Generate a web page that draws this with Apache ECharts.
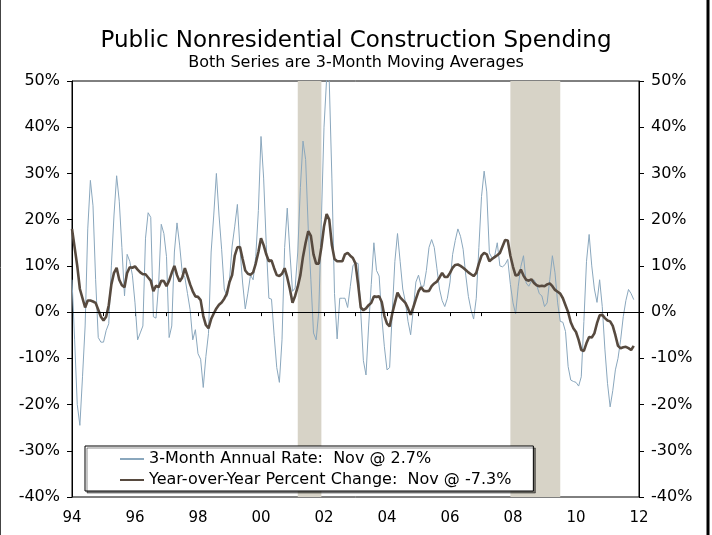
<!DOCTYPE html>
<html>
<head>
<meta charset="utf-8">
<script src="https://cdn.jsdelivr.net/npm/echarts@6/dist/echarts.min.js"></script>
<style>
  html, body { margin: 0; padding: 0; background: #fff; }
  #chart { width: 712px; height: 535px; }
</style>
</head>
<body>
<div id="chart"></div>
<script>
// monthly values, Jan 1994 .. Nov 2011
const startYear = 1994

// 3-month annual rate, % (thin line)
const rate3m = [
  7, -6, -20, -24.5, -14, -3, 18, 28.5, 23, 7, -5.5, -6.5,        // 1994
  -6.5, -4, -2.5, 10, 21, 29.5, 24, 14, 3.5, 12.5, 11, 8,         // 1995
  2, -6, -4.5, -3, 16, 21.5, 20.5, -1, -1.3, 6, 19, 17,           // 1996
  12, -5.5, -3, 13, 19.3, 14.5, 8.5, 7.5, 4, 0.5, -6, -3.8,       // 1997
  -9, -10.2, -16.3, -9.6, -4.6, 13, 21, 30, 21, 13.6, 5, 3.4,     // 1998
  7, 14.3, 18.6, 23.3, 13.6, 6.3, 0.7, 4.1, 8, 7, 12, 22,         // 1999
  38, 29, 14.6, 3, 2.8, -5, -12, -15.2, -6, 14, 22.5, 13,         // 2000
  4.5, 5.2, 13, 27, 37, 33, 18, 7, -4.5, -6, 0, 20,               // 2001
  40, 50.5, 50, 29, 4, -5.8, 3, 3, 3, 1, 5.5, 10,                 // 2002
  10.7, 10.5, 0, -10.5, -13.6, -3, 6, 15, 9, 7.8, -1, -7.5,       // 2003
  -12.5, -12, 0, 11, 17, 11, 5, 2.2, -2, -4.9, 0.5, 6.5,          // 2004
  8, 5.6, 5.6, 9, 14, 15.7, 14, 9.5, 5, 2.5, 1.2, 3,              // 2005
  6.5, 12.5, 15.5, 18, 16.4, 13.6, 8, 3.4, 0.5, -1.5, 3, 14,      // 2006
  25, 30.5, 26, 12.8, 11.7, 12.1, 15, 10, 9.8, 10.3, 11.4, 6,     // 2007
  2, -0.4, 5.6, 9.9, 12.2, 6.3, 5.6, 6.7, 7, 5.9, 4, 3.5,         // 2008
  1.2, 2, 7, 12.2, 8.5, 2, -2, -2.2, -4.2, -11.8, -14.7, -15,     // 2009
  -15.2, -16, -14, -2, 11, 16.8, 10, 5, 2.1, 7, 1.2, -8,          // 2010
  -15.4, -20.5, -17, -12.5, -10, -6, -1, 2.5, 4.9, 4, 2.7         // 2011
]

// year-over-year percent change, % (thick line)
const yoyChange = [
  18, 14, 10, 5, 3, 1, 2.5, 2.5, 2.3, 2, 0.5, -1,                 // 1994
  -1.8, -1, 1.5, 6, 8.5, 9.6, 7, 5.8, 5.4, 8.5, 9.7, 9.6,         // 1995
  9.9, 9.2, 8.6, 8.2, 8.2, 7.5, 6.8, 4.5, 5.7, 5.4, 6.8, 6.7,     // 1996
  5.6, 6.8, 8.5, 10, 8, 6.6, 7.5, 9.5, 7.8, 6, 4.5, 3.4,          // 1997
  3.3, 2.6, -0.8, -2.8, -3.5, -1.5, -0.3, 0.8, 1.6, 2.1, 2.9, 4,  // 1998
  6.5, 8, 12.2, 14, 14.1, 11.5, 9, 8.3, 8.1, 8.6, 10.5, 13,       // 1999
  16, 14.5, 12.5, 11, 11.2, 9.5, 8, 7.8, 8.3, 9.5, 7.5, 5,        // 2000
  2, 3.5, 5.5, 8, 12, 15, 17.5, 16.5, 12.5, 10.5, 10.5, 14,       // 2001
  18.5, 21.2, 20, 14.5, 11.5, 11, 11, 11, 12.5, 12.8, 12.2, 11.7, // 2002
  10.5, 6, 1, 0.4, 0.8, 1.5, 2, 3.4, 3.3, 3.4, 2.2, -0.8,         // 2003
  -2.5, -3.1, -0.3, 2, 4.2, 3.2, 2.6, 2, 0.8, -0.6, 1, 2.8,       // 2004
  4.5, 5.4, 4.6, 4.5, 4.6, 5.6, 6.2, 6.6, 7.5, 8.5, 7.6, 7.6,     // 2005
  8.5, 9.6, 10.2, 10.3, 10, 9.6, 9.1, 8.6, 8.2, 7.8, 8.5, 10.5,   // 2006
  12.2, 12.8, 12.5, 11, 11.5, 11.9, 12.3, 12.8, 14.2, 15.6, 15.5, 12.2, // 2007
  9.8, 7.9, 8.1, 9.2, 7.9, 7, 6.8, 7.1, 6.3, 5.8, 5.6, 5.7,       // 2008
  5.6, 6, 6.2, 5.6, 4.8, 4.4, 4, 3, 1.5, 0, -2.2, -3.5,           // 2009
  -4.3, -6, -8.2, -8.4, -6.7, -5.4, -5.5, -4.6, -2.4, -0.7, -0.6, -1.3, // 2010
  -1.8, -2, -3, -5, -7.3, -7.8, -7.6, -7.5, -7.8, -8.2, -7.3      // 2011
]

// recessions as [start, end] in decimal years
const recessions = [
  [2001 + 2 / 12, 2001 + 11 / 12],
  [2007 + 11 / 12, 2009 + 6 / 12]
]

const rateName = '3-Month Annual Rate:  Nov @ 2.7%'
const yoyName = 'Year-over-Year Percent Change:  Nov @ -7.3%'

const toPoints = (arr) => arr.map((v, i) => [startYear + i / 12, v])

const font = 'DejaVu Sans, Verdana, sans-serif'
const chart = echarts.init(document.getElementById('chart'), null, { renderer: 'canvas' })

const yAxisBase = {
  type: 'value',
  min: -40,
  max: 50,
  interval: 10,
  splitLine: { show: false },
  axisLine: { show: true, lineStyle: { color: '#000', width: 1 } },
  axisTick: { show: true, length: 5, lineStyle: { color: '#000' } },
  axisLabel: { formatter: '{value}%', fontFamily: font, fontSize: 16, color: '#000', margin: 12 }
}

chart.setOption({
  animation: false,
  backgroundColor: '#fff',
  title: {
    text: 'Public Nonresidential Construction Spending',
    subtext: 'Both Series are 3-Month Moving Averages',
    left: 'center',
    top: 25,
    itemGap: 2,
    textStyle: { fontFamily: font, fontSize: 23, fontWeight: 'normal', color: '#000' },
    subtextStyle: { fontFamily: font, fontSize: 16, color: '#000' }
  },
  grid: {
    left: 72,
    right: 73,
    top: 81,
    bottom: 38,
    show: true,
    borderColor: '#000',
    borderWidth: 1,
    backgroundColor: 'transparent'
  },
  legend: {
    orient: 'vertical',
    left: 85,
    top: 446,
    padding: [5, 22, 3, 34],
    itemGap: 5,
    itemWidth: 24,
    itemHeight: 15,
    backgroundColor: '#fff',
    borderColor: '#000',
    borderWidth: 1,
    shadowColor: 'rgba(0,0,0,0.45)',
    shadowOffsetX: 2,
    shadowOffsetY: 2,
    shadowBlur: 0,
    itemStyle: { color: 'transparent', borderColor: 'transparent', borderWidth: 0 },
    textStyle: { fontFamily: font, fontSize: 16, color: '#000' },
    data: [rateName, yoyName]
  },
  xAxis: {
    type: 'value',
    min: 1994,
    max: 2012,
    interval: 1,
    splitLine: { show: false },
    axisLine: { show: true, lineStyle: { color: '#000' } },
    axisTick: { show: true, length: 4, lineStyle: { color: '#000' } },
    axisLabel: {
      fontFamily: font,
      fontSize: 15,
      color: '#000',
      margin: 14,
      showMinLabel: true,
      showMaxLabel: true,
      formatter: (v) => (v % 2 === 0 ? String(v % 100).padStart(2, '0') : '')
    }
  },
  yAxis: [
    Object.assign({}, yAxisBase, { position: 'left' }),
    Object.assign({}, yAxisBase, { position: 'right' })
  ],
  series: [
    {
      name: 'recessions',
      type: 'line',
      data: [],
      z: 1,
      silent: true,
      markArea: {
        silent: true,
        itemStyle: { color: '#d7d3c7' },
        data: recessions.map(([a, b]) => [{ xAxis: a }, { xAxis: b }])
      },
      markLine: {
        silent: true,
        symbol: 'none',
        label: { show: false },
        lineStyle: { color: '#000', width: 1, type: 'solid' },
        data: [{ yAxis: 0 }]
      }
    },
    {
      name: rateName,
      type: 'line',
      data: toPoints(rate3m),
      symbol: 'none',
      z: 3,
      lineStyle: { color: '#8aa7bd', width: 1 },
      itemStyle: { color: '#8aa7bd' }
    },
    {
      name: yoyName,
      type: 'line',
      data: toPoints(yoyChange),
      symbol: 'none',
      z: 4,
      lineStyle: { color: '#574a3f', width: 2.6 },
      itemStyle: { color: '#574a3f' }
    }
  ],
  graphic: [
    { type: 'line', shape: { x1: 0.5, y1: 0, x2: 0.5, y2: 535 }, style: { stroke: '#444', lineWidth: 1 } },
    { type: 'line', shape: { x1: 708, y1: 0, x2: 708, y2: 535 }, style: { stroke: '#000', lineWidth: 3 } }
  ]
})
</script>
</body>
</html>
